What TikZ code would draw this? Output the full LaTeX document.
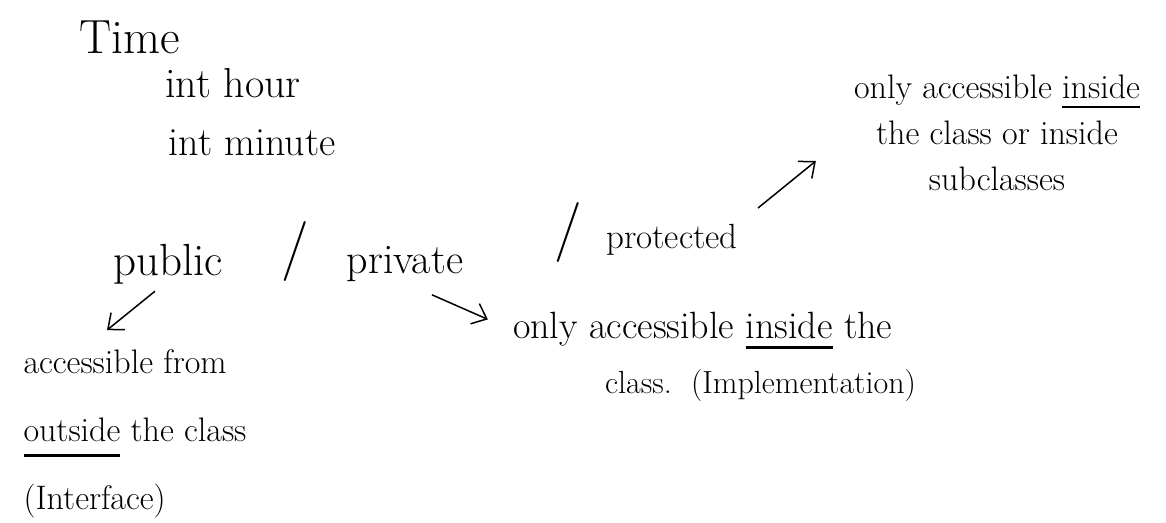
\documentclass[tikz,border=0pt]{standalone}
\usepackage{fontspec}
\usetikzlibrary{positioning, calc, arrows.meta}

\newsavebox{\ulbox}
% word with a pen stroke under it: {thickness}{depth}{word}
\newcommand{\ulword}[3]{\sbox{\ulbox}{#3}\rlap{\usebox{\ulbox}}\rule[-#2]{\wd\ulbox}{#1}}

\tikzset{
  hand/.style={inner sep=0pt, text=black},
  word/.style={hand, font=\fontsize{#1}{#1}\selectfont},
  note/.style 2 args={hand, font=\fontsize{#1}{#2}\selectfont},
  pen/.style={line width=1.5pt, -{Straight Barb[length=13pt, width=22pt]}}
}

\begin{document}
\begin{tikzpicture}[node distance=2cm, on grid, auto]
   \useasboundingbox (0,0) rectangle (1166pt,-522pt);

   \node[word=48] (time) at (130pt,-37pt) {Time};
   \node[word=42] (hour) [below right=46pt and 103pt of time] {int hour};
   \node[word=40] (minute) [below right=60pt and 19pt of hour] {int minute};

   \node[word=45] (public) [below left=121pt and 84pt of minute] {public};
   \node[word=60] (sep1) [above right=13pt and 127pt of public] {/};
   \node[word=42] (private) [right=237pt of public] {private};
   \node[word=60] (sep2) [above right=31.5pt and 163pt of private] {/};
   \node[word=35] (protected) [above right=24pt and 267pt of private] {protected};

   \node[note={34}{68}, align=left] (pubnote) [below left=169.5pt and 33pt of public]
     {accessible from\\ \ulword{3.5pt}{16pt}{outside} the class\\ (Interface)};
   \node[note={38}{55}, align=left] (privnote) [below right=93.3pt and 309.5pt of private]
     {only accessible \ulword{3pt}{10pt}{inside} the\\
      \hspace*{92pt}{\fontsize{32}{55}\selectfont class.~~(Implementation)}};
   \node[note={34}{46}, align=center] (protnote) [above right=107pt and 325pt of protected]
     {only accessible \ulword{1.5pt}{9pt}{inside}\\ the class or inside\\ subclasses};

   \draw[pen] ($(public.south)+(-13pt,-7pt)$) -- ($(pubnote.north)+(-28pt,19pt)$);
   \draw[pen] ($(private.south)+(27pt,-13pt)$) -- ($(privnote.north west)+(-25pt,-7pt)$);
   \draw[pen] ($(protected.east)+(20pt,32pt)$) -- ($(protnote.west)+(-38pt,-28pt)$);
\end{tikzpicture}
\end{document}
